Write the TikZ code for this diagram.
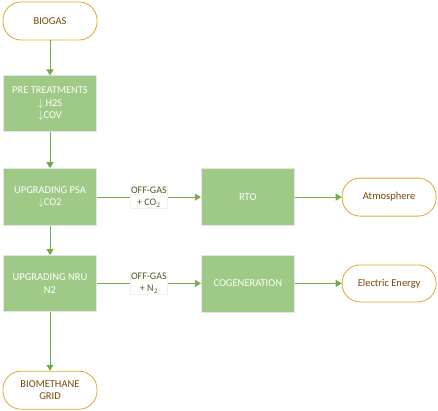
\documentclass[tikz,border=0pt]{standalone}
\usepackage{fontspec}
\setmainfont{Carlito}
\usetikzlibrary{positioning,arrows.meta}

\definecolor{boxgreen}{RGB}{158,201,134}
\definecolor{arrgreen}{RGB}{112,173,71}
\definecolor{pillgold}{RGB}{222,168,46}
\definecolor{pilltext}{RGB}{122,72,10}
\definecolor{labtext}{RGB}{80,88,40}

\begin{document}
\begin{tikzpicture}[
    font=\fontsize{10.5pt}{12.5pt}\selectfont,
    box/.style={draw=gray!20, line width=0.8pt, fill=boxgreen, text=white, align=center,
                minimum width=93pt, minimum height=57pt, inner sep=2pt},
    pill/.style={draw=pillgold, line width=0.8pt, fill=white, text=pilltext, align=center,
                 rounded corners=18pt, minimum width=94pt, minimum height=38pt, inner sep=2pt},
    offgas/.style={fill=white, draw=gray!12, text=labtext, align=center, inner sep=1pt,
                   font=\fontsize{10pt}{12pt}\selectfont},
    arr/.style={-{Triangle[length=6pt,width=7pt]}, arrgreen, line width=0.8pt},
  ]
  \useasboundingbox (0,0) rectangle (438pt,-410pt);

  % ===== main line (left) =====
  \node[pill] (biogas) at (50pt,-21pt) {BIOGAS};
  \node[box, minimum height=56pt, below=35pt of biogas] (pretreat)
    {PRE TREATMENTS\\ $\downarrow$ H2S\\ $\downarrow$COV};
  \node[box, below=36pt of pretreat] (psa) {UPGRADING PSA\\ $\downarrow$CO2};
  \node[box, minimum height=56pt, below=29pt of psa] (nru) {UPGRADING NRU\\ N2};
  \node[pill, below=59pt of nru] (grid) {BIOMETHANE\\ GRID};

  % ===== off-gas treatment (right) =====
  \node[box, right=104pt of psa] (rto) {RTO};
  \node[box, right=104pt of nru] (cogen) {COGENERATION};
  \node[pill, right=47pt of rto] (atmos) {Atmosphere};
  \node[pill, minimum height=37pt, right=47pt of cogen] (energy) {Electric Energy};

  % ===== arrows =====
  \draw[arr] (biogas) -- (pretreat);
  \draw[arr] (pretreat) -- (psa);
  \draw[arr] (psa) -- (nru);
  \draw[arr] (nru) -- (grid);
  \draw[arr] (psa) -- (rto)
        node[midway, offgas]{OFF-GAS\\ + CO$_2$};
  \draw[arr] (nru) -- (cogen)
        node[midway, offgas]{OFF-GAS\\ + N$_2$};
  \draw[arr] (rto) -- (atmos);
  \draw[arr] (cogen) -- (energy);

\end{tikzpicture}
\end{document}
